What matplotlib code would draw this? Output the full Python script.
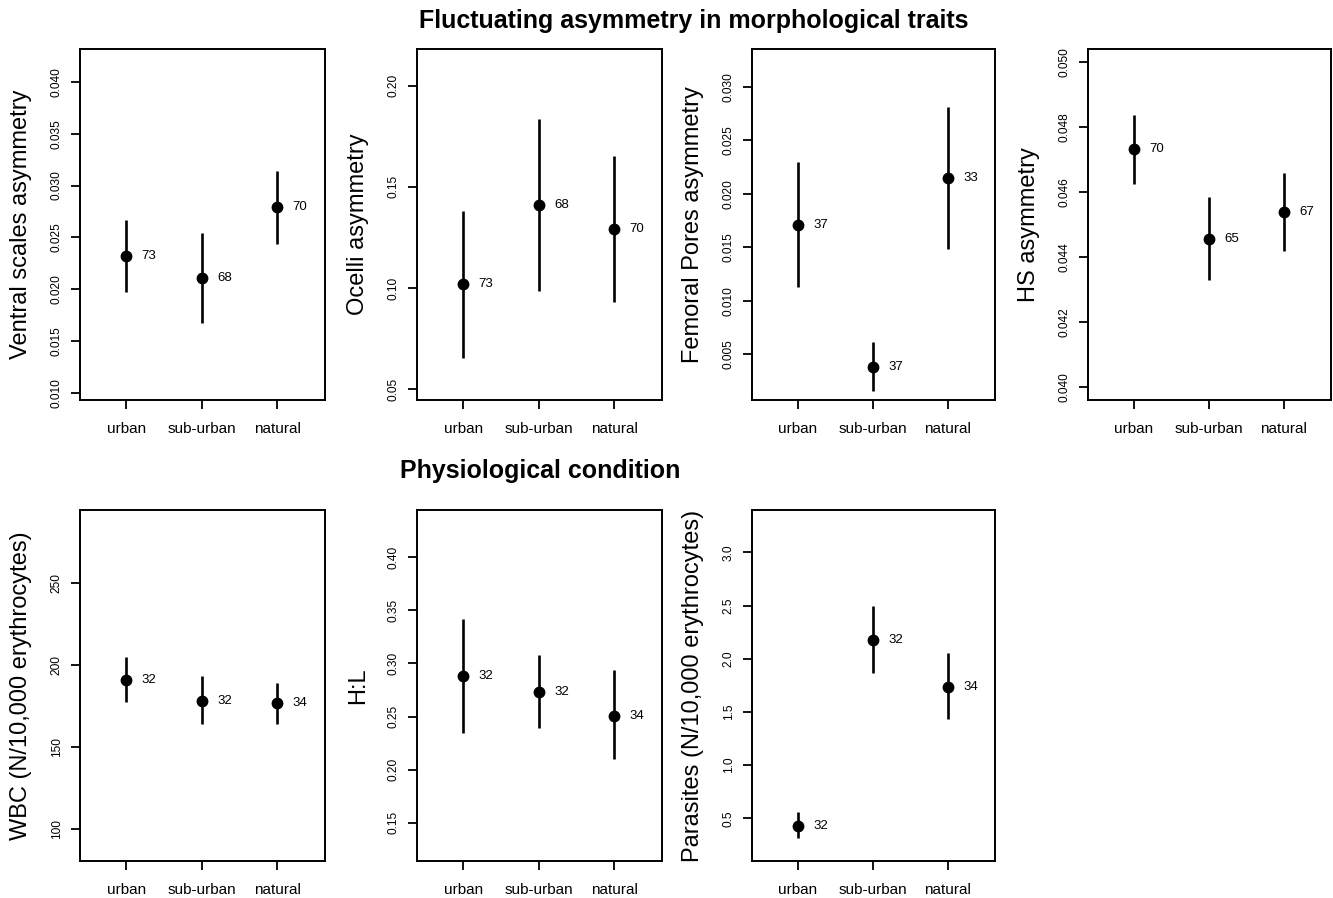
import matplotlib
matplotlib.use('Agg')
import matplotlib.pyplot as plt
import numpy as np

plt.rcParams['font.family'] = ['Liberation Sans', 'DejaVu Sans']

W, H = 1333, 898

sites = ['urban', 'sub-urban', 'natural']

# mean, lower, upper, n per panel
ventral_mean = [0.02323, 0.02114, 0.02798]
ventral_lo = [0.01973, 0.01680, 0.02438]
ventral_hi = [0.02670, 0.02541, 0.03142]
ventral_n = [73, 68, 70]

ocelli_mean = [0.1019, 0.1411, 0.1292]
ocelli_lo = [0.0656, 0.0986, 0.0930]
ocelli_hi = [0.1382, 0.1836, 0.1654]
ocelli_n = [73, 68, 70]

femoral_mean = [0.01709, 0.00384, 0.02150]
femoral_lo = [0.01126, 0.00160, 0.01481]
femoral_hi = [0.02294, 0.00612, 0.02814]
femoral_n = [37, 37, 33]

hs_mean = [0.04733, 0.04456, 0.04538]
hs_lo = [0.04625, 0.04329, 0.04418]
hs_hi = [0.04839, 0.04586, 0.04659]
hs_n = [70, 65, 67]

wbc_mean = [191.0, 178.3, 176.7]
wbc_lo = [177.3, 163.9, 164.1]
wbc_hi = [205.2, 193.6, 188.9]
wbc_n = [32, 32, 34]

hl_mean = [0.2881, 0.2734, 0.2508]
hl_lo = [0.2342, 0.2389, 0.2100]
hl_hi = [0.3418, 0.3076, 0.2938]
hl_n = [32, 32, 34]

par_mean = [0.428, 2.176, 1.737]
par_lo = [0.312, 1.868, 1.433]
par_hi = [0.556, 2.495, 2.051]
par_n = [32, 32, 34]

ventral_ticks = [0.010, 0.015, 0.020, 0.025, 0.030, 0.035, 0.040]
ocelli_ticks = [0.05, 0.10, 0.15, 0.20]
femoral_ticks = [0.005, 0.010, 0.015, 0.020, 0.025, 0.030]
hs_ticks = [0.040, 0.042, 0.044, 0.046, 0.048, 0.050]
wbc_ticks = [100, 150, 200, 250]
hl_ticks = [0.15, 0.20, 0.25, 0.30, 0.35, 0.40]
par_ticks = [0.5, 1.0, 1.5, 2.0, 2.5, 3.0]

panels = [
    # (box px: left, top, width), ylabel, data, ticks, fmt, ylim
    ((80, 49, 245), 'Ventral scales asymmetry',
     (ventral_mean, ventral_lo, ventral_hi, ventral_n), ventral_ticks, '%.3f', (0.00935, 0.04315)),
    ((417, 49, 245), 'Ocelli asymmetry',
     (ocelli_mean, ocelli_lo, ocelli_hi, ocelli_n), ocelli_ticks, '%.2f', (0.0447, 0.2181)),
    ((752, 49, 243), 'Femoral Pores asymmetry',
     (femoral_mean, femoral_lo, femoral_hi, femoral_n), femoral_ticks, '%.3f', (0.00073, 0.03352)),
    ((1088, 49, 243), 'HS asymmetry',
     (hs_mean, hs_lo, hs_hi, hs_n), hs_ticks, '%.3f', (0.03959, 0.05041)),
    ((80, 510, 245), 'WBC (N/10,000 erythrocytes)',
     (wbc_mean, wbc_lo, wbc_hi, wbc_n), wbc_ticks, '%d', (80.5, 294.7)),
    ((417, 510, 245), 'H:L',
     (hl_mean, hl_lo, hl_hi, hl_n), hl_ticks, '%.2f', (0.1139, 0.4445)),
    ((752, 510, 243), 'Parasites (N/10,000 erythrocytes)',
     (par_mean, par_lo, par_hi, par_n), par_ticks, '%.1f', (0.0987, 3.398)),
]

fig = plt.figure(figsize=(W / 100, H / 100), dpi=100)

box_h = 351
for (left, top, width), ylabel, (mean, lo, hi, n), ticks, fmt, ylim in panels:
    ax = fig.add_axes([left / W, 1 - (top + box_h) / H, width / W, box_h / H])
    x = np.arange(1, 4)
    ax.vlines(x, lo, hi, color='black', lw=1.9)
    ax.plot(x, mean, 'o', color='black', ms=7.5)
    for xi, yi, ni in zip(x, mean, n):
        ax.annotate(str(ni), (xi, yi), xytext=(11, 0), textcoords='offset points',
                    ha='left', va='center', fontsize=9.5)
    ax.set_xlim(0.385, 3.63)
    ax.set_ylim(*ylim)
    ax.set_xticks(x)
    ax.set_xticklabels(sites, fontsize=11)
    ax.set_yticks(ticks)
    ax.set_yticklabels([fmt % t for t in ticks], fontsize=8.6, rotation=90, va='center')
    ax.tick_params(axis='both', direction='out', length=6.5, width=1.3, color='black')
    ax.tick_params(axis='x', pad=9)
    ax.tick_params(axis='y', pad=6)
    for s in ax.spines.values():
        s.set_linewidth(1.4)
    ax.text(-59 / width, 0.5, ylabel, transform=ax.transAxes, rotation=90,
            ha='center', va='center', fontsize=17)

fig.text(694 / W, 1 - 21 / H, 'Fluctuating asymmetry in morphological traits',
         ha='center', va='center', fontsize=18, fontweight='bold')
fig.text(540 / W, 1 - 471 / H, 'Physiological condition',
         ha='center', va='center', fontsize=18, fontweight='bold')

fig.savefig('out.png', dpi=100)
